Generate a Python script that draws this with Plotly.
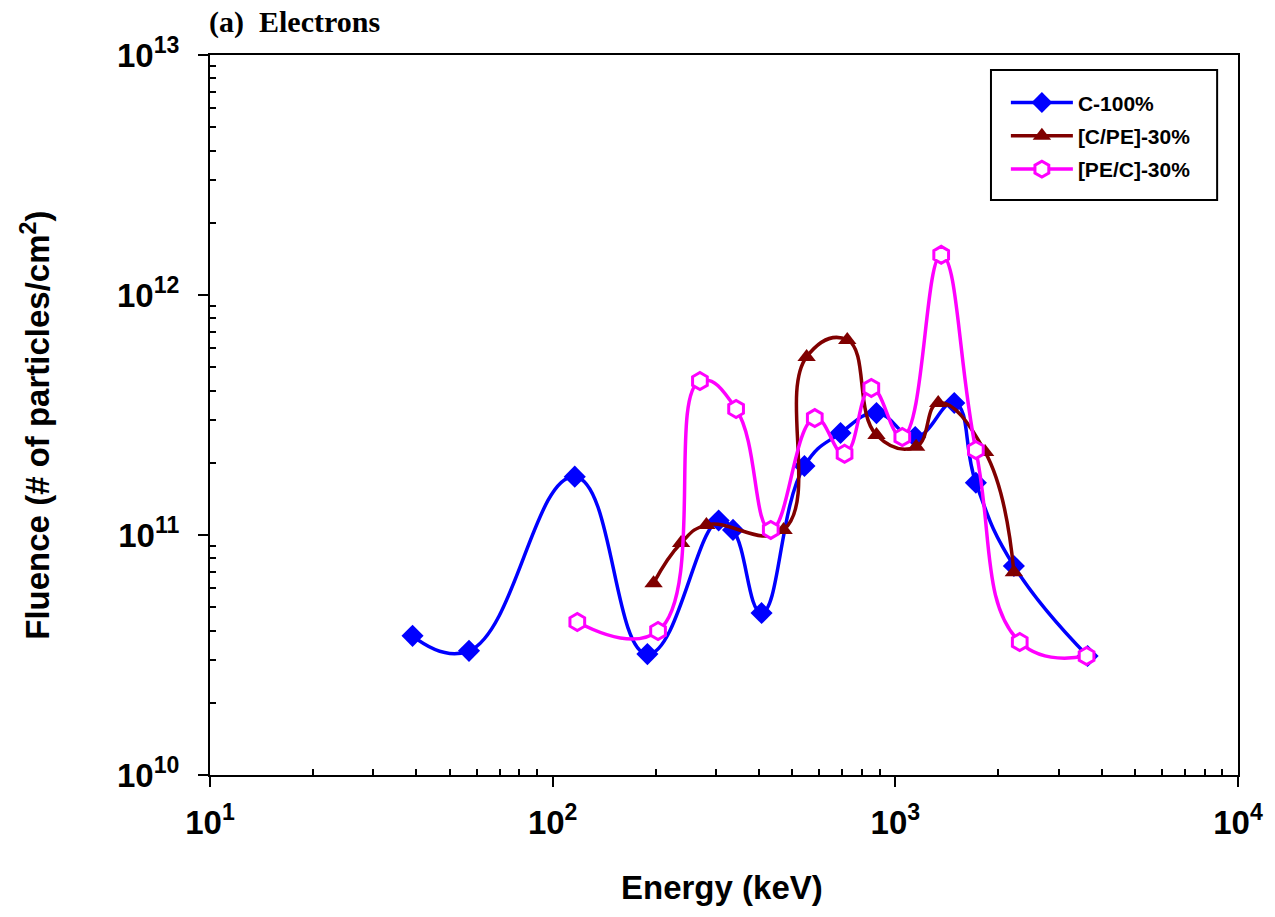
import plotly.graph_objects as go

# Energy (keV) and fluence (# of particles/cm^2) per configuration
energy_c100 = [39, 57, 116, 189, 305, 336, 407, 543, 692, 881, 1143, 1486, 1718, 2218, 3640]
fluence_c100 = [3.8e10, 3.29e10, 1.75e11, 3.19e10, 1.15e11, 1.05e11, 4.73e10, 1.94e11,
                2.66e11, 3.22e11, 2.56e11, 3.55e11, 1.65e11, 7.43e10, 3.13e10]

energy_cpe30 = [197, 237, 281, 472, 551, 724, 881, 1150, 1334, 1828, 2218]
fluence_cpe30 = [6.3e10, 9.26e10, 1.1e11, 1.05e11, 5.52e11, 6.5e11, 2.61e11, 2.33e11,
                 3.55e11, 2.22e11, 7.0e10]

energy_pec30 = [118, 203, 269, 343, 433, 582, 711, 851, 1048, 1361, 1718, 2307, 3615]
fluence_pec30 = [4.34e10, 3.98e10, 4.38e11, 3.35e11, 1.05e11, 3.07e11, 2.18e11, 4.1e11,
                 2.56e11, 1.47e12, 2.26e11, 3.58e10, 3.13e10]

x_tick_vals = [10, 100, 1000, 10000]
x_tick_text = ["10<sup>1</sup>", "10<sup>2</sup>", "10<sup>3</sup>", "10<sup>4</sup>"]
y_tick_vals = [1e10, 1e11, 1e12, 1e13]
y_tick_text = ["10<sup>10</sup>", "10<sup>11</sup>", "10<sup>12</sup>", "10<sup>13</sup>"]

SANS = "Liberation Sans, Arial, sans-serif"

fig = go.Figure()

fig.add_trace(go.Scatter(
    x=energy_c100, y=fluence_c100, name="C-100%", legendgroup="c100",
    mode="lines+markers",
    line=dict(color="#0000FF", width=3.5, shape="spline", smoothing=1.3),
    marker=dict(symbol="diamond", size=17, color="#0000FF"),
))
fig.add_trace(go.Scatter(
    x=energy_cpe30, y=fluence_cpe30, name="[C/PE]-30%", legendgroup="cpe",
    mode="lines+markers",
    line=dict(color="#800000", width=3.5, shape="spline", smoothing=1.3),
    marker=dict(symbol="triangle-up", size=16, color="#800000"),
))
fig.add_trace(go.Scatter(
    x=energy_pec30, y=fluence_pec30, name="[PE/C]-30%", legendgroup="pec",
    mode="lines+markers",
    line=dict(color="#FF00FF", width=3.5, shape="spline", smoothing=1.3),
    marker=dict(symbol="hexagon", size=17, color="white",
                line=dict(color="#FF00FF", width=3)),
))

# decade sub-divisions 2..9 for the minor ticks
x_minor = [m * 10 ** k for k in (1, 2, 3) for m in range(2, 10)]
y_minor = [m * 10 ** k for k in (10, 11, 12) for m in range(2, 10)]

axis_common = dict(
    showline=True, linecolor="black", linewidth=2, mirror=True,
    showgrid=False, zeroline=False,
    ticks="outside", ticklen=10, tickwidth=2, tickcolor="black",
    tickfont=dict(family=SANS, size=33, color="black", weight="bold"),
)

fig.update_xaxes(
    type="log", range=[1, 4],
    tickmode="array", tickvals=x_tick_vals, ticktext=x_tick_text,
    minor=dict(tickmode="array", tickvals=x_minor, ticks="inside",
               ticklen=6, tickwidth=1.5, tickcolor="black", showgrid=False),
    ticklabelstandoff=7,
    **axis_common,
)
fig.update_yaxes(
    type="log", range=[10, 13],
    tickmode="array", tickvals=y_tick_vals, ticktext=y_tick_text,
    minor=dict(tickmode="array", tickvals=y_minor, ticks="inside",
               ticklen=6, tickwidth=1.5, tickcolor="black", showgrid=False),
    ticklabelstandoff=12,
    **axis_common,
)

fig.update_layout(
    width=1275, height=917,
    margin=dict(l=210, r=33, t=55, b=142),
    paper_bgcolor="white", plot_bgcolor="white",
    showlegend=True,
    legend=dict(
        x=0.7742, y=0.962, xanchor="left", yanchor="top",
        borderwidth=0, bgcolor="rgba(0,0,0,0)",
        font=dict(family=SANS, size=21, color="black", weight="bold"),
        itemwidth=62, tracegroupgap=3,
    ),
    shapes=[
        # legend frame
        dict(type="rect", xref="paper", yref="paper",
             x0=0.7597, x1=0.9797, y0=0.7986, y1=0.979,
             line=dict(color="black", width=2), fillcolor="white", layer="below"),
    ],
    annotations=[
        dict(text="Energy (keV)", xref="paper", yref="paper",
             x=0.498, y=-0.156, xanchor="center", yanchor="middle", showarrow=False,
             font=dict(family=SANS, size=33, color="black", weight="bold")),
        dict(text="Fluence (# of particles/cm<sup>2</sup>)", xref="paper", yref="paper",
             x=-0.1696, y=0.486, xanchor="center", yanchor="middle", showarrow=False,
             textangle=-90,
             font=dict(family=SANS, size=33, color="black", weight="bold")),
        dict(text="(a)  Electrons", xref="paper", yref="paper",
             x=-0.003, y=1.046, xanchor="left", yanchor="middle", showarrow=False,
             font=dict(family="Liberation Serif, Times New Roman, serif", size=30,
                       color="black", weight="bold")),
    ],
)

fig.write_html("out.html")
